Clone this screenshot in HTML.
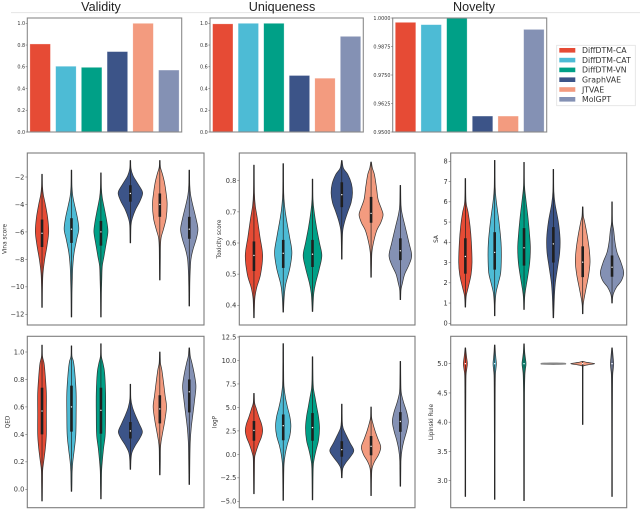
<!DOCTYPE html>
<html lang="en">
<head>
<meta charset="utf-8">
<title>Molecule generation metrics</title>
<style>
html,body{margin:0;padding:0;background:#fff;}
#figure{display:block;width:640px;height:509px;filter:blur(0.35px);}
text{fill:#333;font-family:"DejaVu Sans","Liberation Sans",sans-serif;}
.title{font-family:"Liberation Sans",sans-serif;font-size:12.6px;fill:#222;text-anchor:middle;}
.tick{font-size:6.6px;text-anchor:end;}
.barTick{font-size:4.9px;text-anchor:end;}
.axisLabel{font-size:5.8px;text-anchor:middle;}
.legendText{font-size:7.8px;}
</style>
</head>
<body>
<svg id="figure" xmlns="http://www.w3.org/2000/svg" width="640" height="509" viewBox="0 0 640 509">
  <rect x="0" y="0" width="640" height="509" fill="#fff"/>
  <line x1="11" y1="12.6" x2="640" y2="12.6" stroke="#e4e4e4" stroke-width="1"/>
  <text class="title" x="101" y="11">Validity</text>
  <text class="title" x="282" y="11">Uniqueness</text>
  <text class="title" x="474" y="11">Novelty</text>
  <g id="charts"></g>
  <g id="legend">
    <rect x="556.7" y="45.3" width="78.6" height="60.4" fill="#fff" stroke="#e2e2e2" stroke-width="0.8"/>
  </g>
</svg>
<script>
// Shared categories
const categories = ["DiffDTM-CA", "DiffDTM-CAT", "DiffDTM-VN", "GraphVAE", "JTVAE", "MolGPT"];

// Bar values
const validityValues = [0.81, 0.605, 0.595, 0.74, 1.0, 0.57];
const uniquenessValues = [0.995, 1.0, 1.0, 0.52, 0.495, 0.88];
const noveltyValues = [0.9981, 0.9971, 1.0, 0.957, 0.957, 0.995];

// Tick labels
const validityTicks = ["0.0", "0.2", "0.4", "0.6", "0.8", "1.0"];
const uniquenessTicks = ["0.0", "0.2", "0.4", "0.6", "0.8", "1.0"];
const noveltyTicks = ["0.9500", "0.9625", "0.9750", "0.9875", "1.0000"];
const vinaTicks = ["-2", "-4", "-6", "-8", "-10", "-12"];
const toxicityTicks = ["0.4", "0.5", "0.6", "0.7", "0.8"];
const saTicks = ["0", "1", "2", "3", "4", "5", "6", "7", "8"];
const qedTicks = ["0.0", "0.2", "0.4", "0.6", "0.8", "1.0"];
const logpTicks = ["-5.0", "-2.5", "0.0", "2.5", "5.0", "7.5", "10.0", "12.5"];
const lipinskiTicks = ["3.0", "3.5", "4.0", "4.5", "5.0"];

// Violin levels (score), matching relative density, and [q1, median, q3]
const vinaLevels = [
  [-1.8,-2.7,-3.3,-4,-5,-6,-7,-8,-9,-10,-11.5],
  [-1.5,-2.7,-3.4,-4,-5,-5.8,-6.5,-7.5,-8.5,-9.5,-10.5,-12.2],
  [-1.7,-2.8,-3.5,-4.5,-5.3,-6,-6.8,-7.8,-8.5,-9.5,-10.5,-12.2],
  [-0.8,-1.4,-1.9,-2.4,-3,-3.3,-3.8,-4.4,-5,-5.5,-6.8],
  [-0.8,-1.3,-1.8,-2.4,-3.2,-4,-5,-5.8,-6.4,-7,-8,-9.5],
  [-1.5,-2.6,-3.3,-4,-5,-5.8,-6.5,-7.3,-8,-9,-10,-11.4]
];
const vinaDensity = [
  [1,1.5,4,10,17,20,15,8,3,1.5,1],
  [1,1.5,4,9,18,22,16,8,4,2.5,1.5,1],
  [1,1.5,4,12,18,21,16,9,4,2.5,1.5,1],
  [1,2,8,20,35,36,28,15,6,2,1],
  [1,2,8,14,19,22,19,11,4,2,1.5,1],
  [1,1.5,4,10,20,26,21,11,5,2.5,1.5,1]
];
const vinaQuartiles = [[-7.1,-6.1,-5.1],[-6.8,-5.8,-5],[-7,-6,-5.2],[-3.8,-3.2,-2.6],[-4.9,-4,-3.2],[-6.5,-5.8,-4.9]];

const toxicityLevels = [
  [.85,.76,.72,.68,.62,.56,.5,.46,.44,.42,.39,.36],
  [.855,.76,.72,.68,.62,.57,.52,.47,.44,.41,.378],
  [.805,.74,.7,.65,.6,.56,.52,.47,.44,.41,.38],
  [.865,.84,.82,.79,.76,.73,.7,.67,.64,.6,.548],
  [.86,.84,.82,.78,.74,.71,.69,.665,.64,.6,.57,.53,.49],
  [.785,.72,.69,.65,.6,.56,.53,.5,.47,.45,.418]
];
const toxicityDensity = [
  [1,1.5,4,10,18,26,20,9,5,2.5,1.5,1],
  [1,1.5,4,9,19,26,20,8,4,2,1],
  [1,1.5,5,12,21,28,21,9,4,2,1],
  [1,5,18,29,32,28,18,9,3,1.5,1],
  [1,4,10,16,21,31,36,29,17,7,2.5,1.5,1],
  [1,2,6,15,26,34,26,13,6,2,1]
];
const toxicityQuartiles = [[.51,.56,.605],[.52,.567,.61],[.523,.564,.61],[.715,.755,.795],[.665,.695,.748],[.545,.575,.615]];

const saLevels = [
  [7.15,6,5.5,4.8,4,3,2.4,1.8,1.4,1.1,.8],
  [8.05,6.7,6,5,4,3.3,2.5,2,1.5,1,.37],
  [7.95,6.8,6.2,5.2,4.3,3.7,3,2.3,1.7,1.3,.68],
  [7.6,6.5,5.9,5,4.2,3.5,2.8,2,1.3,.27],
  [5.75,5.3,5,4.3,3.6,3,2.4,1.8,1.2,.9,.47],
  [6,5,4.6,4,3.5,3,2.5,2.1,1.8,1.5,1.3,1]
];
const saDensity = [
  [1,2,8,14,18,20,17,9,3,1.5,1],
  [1,1.5,5,13,19,20,18,11,4,1.5,1],
  [1,1.5,5,12,17,19,17,11,5,2,1],
  [1,1.5,5,15,20,19,13,6,3,1],
  [1,2,6,14,20,22,18,11,4,1.5,1],
  [1,1.5,5,9,15,27,35,28,14,5,2,1]
];
const saQuartiles = [[2.45,3.3,4.2],[2.65,3.5,4.5],[2.85,3.73,4.7],[3,3.92,4.75],[2.28,3.02,3.8],[2.3,2.77,3.35]];

const qedLevels = [
  [1.05,.97,.92,.85,.7,.55,.4,.3,.2,.14,.05,-.085],
  [1.045,.97,.93,.85,.7,.55,.4,.3,.2,.13,.05,-.015],
  [1.06,.97,.92,.85,.7,.55,.4,.3,.2,.13,.04,-.07],
  [.765,.66,.6,.54,.48,.42,.37,.32,.27,.22,.145],
  [1.0,.92,.87,.78,.68,.6,.5,.42,.35,.3,.2,.105],
  [1.03,.97,.92,.84,.75,.65,.55,.45,.35,.25,.15,.035]
];
const qedDensity = [
  [1,1.5,6,9,13,13,13,10,5,2,1.5,1],
  [1,1.5,6,10,14,14,13,9,4,2,1.5,1],
  [1,1.5,6,11,14,14,13,8,4,2,1.5,1],
  [1,1.5,6,15,26,36,28,15,5,2,1],
  [1,2,6,11,16,20,15,9,4,2,1.5,1],
  [1,3,8,15,20,16,11,6,3,2,1.5,1]
];
const qedQuartiles = [[.4,.57,.74],[.42,.6,.755],[.405,.575,.74],[.37,.425,.49],[.48,.585,.685],[.56,.71,.8]];

const logpLevels = [
  [6.5,5.5,5,4,3.2,2.5,1.8,1,0,-.5,-2,-4.2],
  [11.8,8,7,6,5,4,3,2,1,0,-1,-2.5,-4.9],
  [10.4,8,7,6,5,4,2.8,1.5,.5,-.5,-1.5,-4.85],
  [5.35,3.5,2.8,2,1.2,.4,-.3,-.9,-1.5,-2.5],
  [5.05,4,3.5,2.5,1.7,.8,0,-.8,-1.5,-2.5,-4.4],
  [9.9,7.5,6.5,5.5,4.5,3.5,2.5,1.5,.5,-.5,-1.5,-3.4]
];
const logpDensity = [
  [1,2,6,15,23,26,22,13,4,2,1.5,1],
  [1,1.5,3,7,13,20,23,20,12,6,2.5,1.5,1],
  [1,1.5,3,8,13,18,21,18,11,5,2,1],
  [1,1.5,4,14,25,36,25,12,3,1],
  [1,1.5,4,12,20,29,23,10,3,1.5,1],
  [1,1.5,3,10,19,24,19,11,5,2,1.5,1]
];
const logpQuartiles = [[1.45,2.55,3.55],[1.5,3.05,4.25],[1.45,2.85,4.4],[-.25,.5,1.4],[-.1,.85,1.95],[2.4,3.5,4.5]];

const lipinskiLevels = [
  [5.27,5.2,5.1,5,4.9,4.8,4.5,4,3.5,2.73],
  [5.32,5.2,5.1,5,4.9,4.8,4.5,4,3.5,2.68],
  [5.34,5.2,5.1,5,4.9,4.8,4.5,4,3.5,2.66],
  [5.006,5,4.994],
  [5.04,5.02,5,4.98,4.96,4.9,3.96],
  [5.27,5.2,5.1,5,4.9,4.8,4.5,4,3.5,2.73]
];
const lipinskiDensity = [
  [1,2,4,6,4,2,1.5,1.2,1,1],
  [1,2,3.5,5,3.5,2,1.5,1.2,1,1],
  [1,2,4,6,4,2.5,1.5,1.3,1.2,1],
  [0.2,36,0.2],
  [1,15,36,15,2,1,1],
  [1,2,3.5,5,3.5,2,1.5,1.2,1,1]
];
const lipinskiQuartiles = [[5,5,5],[5,5,5],[5,5,5],[5,5,5],[5,5,5],[5,5,5]];

const palette = ["#E64B35", "#4DBBD5", "#00A087", "#3C5488", "#F39B7F", "#8491B4"];
const SVGNS = "http://www.w3.org/2000/svg";
const charts = document.getElementById("charts");

function make(tag, attrs, parent) {
  const el = document.createElementNS(SVGNS, tag);
  for (const k in attrs) el.setAttribute(k, attrs[k]);
  (parent || charts).appendChild(el);
  return el;
}
function linearScale(v0, p0, v1, p1) {
  return function (v) { return p0 + (v - v0) * (p1 - p0) / (v1 - v0); };
}
function drawFrame(group, b, stroke) {
  const frame = make("rect", {x: b.l, y: b.t, width: b.r - b.l, height: b.b - b.t, fill: "none", stroke: stroke, "stroke-width": 1.1}, group);
  
  
}
function drawTicks(group, ticks, y, b, cls, tickLen, gap) {
  ticks.forEach(function (label) {
    const value = parseFloat(label);
    const py = y(value);
    const mark = make("line", {x1: b.l - tickLen, x2: b.l, y1: py, y2: py, stroke: "#666", "stroke-width": 0.6}, group);
    
    
    const t = make("text", {class: cls, x: b.l - tickLen - gap, y: py + (cls === "tick" ? 2.4 : 1.8)}, group);
    t.textContent = label.replace("-", "\u2212");
    
    
  });
}
function drawBars(name, values, ticks, b, v0, p0, v1, p1) {
  const group = make("g", {});
  
  
  const y = linearScale(v0, p0, v1, p1);
  const step = (b.r - b.l) / values.length;
  values.forEach(function (value, i) {
    const top = y(value);
    const rect = make("rect", {x: b.l + step * (i + 0.5) - step * 0.4, y: top, width: step * 0.8, height: b.b - top, fill: palette[i], stroke: "#fff", "stroke-opacity": 0.55, "stroke-width": 0.6}, group);
    
    
  });
  drawFrame(group, b, "#8a8a8a");
  drawTicks(group, ticks, y, b, "barTick", 1.6, 0.6);
}
function smoothPath(points) {
  let d = "M" + points[0][0].toFixed(2) + " " + points[0][1].toFixed(2);
  for (let i = 0; i < points.length - 1; i++) {
    const p0 = points[Math.max(i - 1, 0)], p1 = points[i], p2 = points[i + 1], p3 = points[Math.min(i + 2, points.length - 1)];
    const c1x = p1[0] + (p2[0] - p0[0]) / 6, c1y = p1[1] + (p2[1] - p0[1]) / 6;
    const c2x = p2[0] - (p3[0] - p1[0]) / 6, c2y = p2[1] - (p3[1] - p1[1]) / 6;
    d += "C" + c1x.toFixed(2) + " " + c1y.toFixed(2) + " " + c2x.toFixed(2) + " " + c2y.toFixed(2) + " " + p2[0].toFixed(2) + " " + p2[1].toFixed(2);
  }
  return d;
}
function drawViolins(name, label, levels, density, quartiles, ticks, b, v0, p0, v1, p1, labelX) {
  const group = make("g", {});
  
  
  const y = linearScale(v0, p0, v1, p1);
  const step = (b.r - b.l) / levels.length;
  const densityUnit = 1 / 3;
  levels.forEach(function (vals, i) {
    const cx = b.l + step * (i + 0.5);
    const flat = vals.length <= 3;
    const right = vals.map(function (v, j) { return [cx + density[i][j] * densityUnit, y(v)]; });
    const left = vals.map(function (v, j) { return [cx - density[i][j] * densityUnit, y(v)]; }).reverse();
    const d = smoothPath(right) + smoothPath(left).replace("M", "L") + "Z";
    const shape = make("path", {d: d, fill: flat ? "#888" : palette[i], stroke: flat ? "#888" : "#333", "stroke-width": flat ? 1.8 : 0.7, "stroke-linejoin": "round"}, group);
    
    
    if (flat) return;
    const q = quartiles[i];
    const whisker = make("line", {x1: cx, x2: cx, y1: y(vals[0]), y2: y(vals[vals.length - 1]), stroke: "#222", "stroke-width": 0.7}, group);
    
    
    const box = make("line", {x1: cx, x2: cx, y1: y(q[0]), y2: y(q[2]), stroke: "#1f1f1f", "stroke-width": 2.6}, group);
    
    
    const dot = make("circle", {cx: cx, cy: y(q[1]), r: 0.7, fill: "#fff"}, group);
    
    
  });
  drawFrame(group, b, "#7c7c7c");
  drawTicks(group, ticks, y, b, "tick", 2, 1);
  const cy = (b.t + b.b) / 2;
  const title = make("text", {class: "axisLabel", x: labelX, y: cy, transform: "rotate(-90 " + labelX + " " + cy + ")"}, group);
  title.textContent = label;
  
  
}

drawBars("validity", validityValues, validityTicks, {l: 27.3, r: 181.7, t: 18, b: 132}, 0, 132, 1, 23.3);
drawBars("uniqueness", uniquenessValues, uniquenessTicks, {l: 210, r: 363.3, t: 18, b: 132}, 0, 132, 1, 23.3);
drawBars("novelty", noveltyValues, noveltyTicks, {l: 392.7, r: 546.7, t: 18, b: 132}, 0.95, 132, 1, 18);

drawViolins("vina", "Vina score", vinaLevels, vinaDensity, vinaQuartiles, vinaTicks, {l: 27.3, r: 204, t: 153, b: 325}, -2, 177, -12, 314.3, 6.6);
drawViolins("toxicity", "Toxicity score", toxicityLevels, toxicityDensity, toxicityQuartiles, toxicityTicks, {l: 239.3, r: 415, t: 153, b: 325}, 0.8, 180.7, 0.4, 305.3, 221);
drawViolins("sa", "SA", saLevels, saDensity, saQuartiles, saTicks, {l: 450.7, r: 626.7, t: 153, b: 325}, 8, 161.3, 0, 323.3, 438);
drawViolins("qed", "QED", qedLevels, qedDensity, qedQuartiles, qedTicks, {l: 27.3, r: 204, t: 336.3, b: 507.7}, 1, 352, 0, 489.3, 9.5);
drawViolins("logp", "logP", logpLevels, logpDensity, logpQuartiles, logpTicks, {l: 239.3, r: 415, t: 336.3, b: 507.7}, 12.5, 337, -5, 501.3, 216.5);
drawViolins("lipinski", "Lipinski Rule", lipinskiLevels, lipinskiDensity, lipinskiQuartiles, lipinskiTicks, {l: 450.7, r: 626.7, t: 336.3, b: 507.7}, 5, 363.7, 3, 480.7, 433);

const legend = document.getElementById("legend");
categories.forEach(function (cat, i) {
  const rowY = 50.3 + i * 9.8;
  const swatch = make("rect", {x: 559.3, y: rowY - 2.3, width: 16, height: 4.6, fill: palette[i]}, legend);
  
  
  const label = make("text", {class: "legendText", x: 582, y: rowY + 2.8}, legend);
  label.textContent = cat;
  
  
});
</script>
</body>
</html>
